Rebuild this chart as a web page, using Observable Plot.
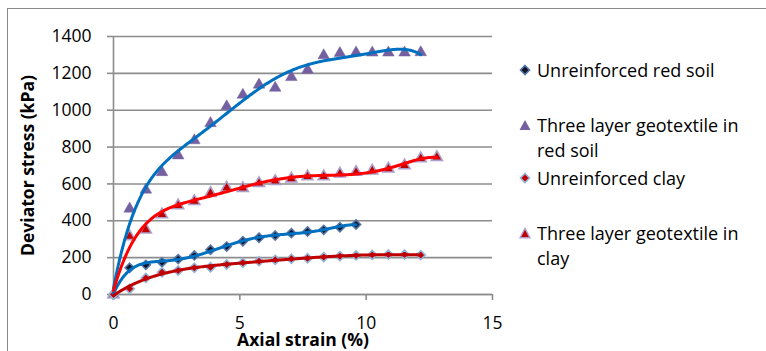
<!DOCTYPE html>
<html><head><meta charset="utf-8">
<script src="https://cdn.jsdelivr.net/npm/d3@7"></script>
<script src="https://cdn.jsdelivr.net/npm/@observablehq/plot@0.6"></script>
<style>
html,body{margin:0;padding:0;background:#fff;}
body{width:766px;height:351px;overflow:hidden;position:relative;font-family:"Open Sans",sans-serif;}
#frame{position:absolute;left:7px;top:8px;width:800px;height:400px;border:1px solid #8a8a8a;box-sizing:border-box;}
#chart{position:absolute;left:0;top:0;}
.legend{position:absolute;left:519px;top:0;font-size:18px;line-height:25px;color:#000;}
.item{position:absolute;left:0;display:flex;align-items:flex-start;white-space:nowrap;}
.item svg{margin-top:6.5px;margin-right:6px;flex:none;}
</style></head><body>
<div id="frame"></div>
<div id="chart"></div>
<div class="legend" id="legend"></div>
<script>
// ---- data ----
const strain = [0, 0.64, 1.28, 1.92, 2.56, 3.2, 3.84, 4.48, 5.12, 5.76, 6.4, 7.04, 7.68, 8.32, 8.96, 9.6, 10.24, 10.88, 11.52, 12.16, 12.8];
const redSoil = [0, 145, 161, 175, 192, 212, 243, 260, 289, 308, 320, 333, 342, 351, 365, 380];
const redSoilGeo = [0, 465, 568, 663, 754, 836, 929, 1020, 1083, 1138, 1121, 1179, 1219, 1297, 1309, 1312, 1312, 1312, 1312, 1314];
const clay = [0, 31, 90, 121, 130, 145, 148, 163, 172, 181, 188, 194, 197, 203, 208, 212, 215, 217, 217, 214];
const clayGeo = [0, 315, 351, 434, 483, 506, 550, 579, 577, 604, 615, 628, 640, 640, 655, 664, 671, 682, 700, 738, 745];
const seriesNames = ["Unreinforced red soil", "Three layer geotextile in red soil", "Unreinforced clay", "Three layer geotextile in clay"];
const xTicks = [0, 5, 10, 15];
const yTicks = [0, 200, 400, 600, 800, 1000, 1200, 1400];

function rows(vals) { return vals.map((v, i) => ({x: strain[i], y: v})); }

// polynomial (order 6) least-squares trendline fitted to the data
function trend(vals, deg = 6) {
  const xs = vals.map((v, i) => strain[i]);
  const xm = d3.max(xs);
  const n = deg + 1;
  const A = Array.from({length: n}, () => new Array(n + 1).fill(0));
  vals.forEach((v, i) => {
    const t = xs[i] / xm;
    const p = d3.range(0, deg + 1).map(k => t ** k);
    for (let r = 0; r < n; r++) {
      for (let c = 0; c < n; c++) A[r][c] += p[r] * p[c];
      A[r][n] += p[r] * v;
    }
  });
  for (let c = 0; c < n; c++) {
    let piv = c;
    for (let r = c + 1; r < n; r++) if (Math.abs(A[r][c]) > Math.abs(A[piv][c])) piv = r;
    [A[c], A[piv]] = [A[piv], A[c]];
    for (let r = 0; r < n; r++) {
      if (r === c) continue;
      const f = A[r][c] / A[c][c];
      for (let k = c; k <= n; k++) A[r][k] -= f * A[c][k];
    }
  }
  const coef = A.map((row, i) => row[n] / row[i]);
  const f = x => { const t = x / xm; let s = 0; coef.forEach((c, k) => s += c * t ** k); return s; };
  return d3.range(0, 201).map(i => { const x = xm * i / 200; return {x, y: f(x)}; });
}

const grey = "#8c8c8c";
const fmt = d3.format("d");
const chart = Plot.plot({
  width: 766, height: 351,
  marginLeft: 113, marginRight: 274, marginTop: 36, marginBottom: 57,
  style: {fontFamily: "'Open Sans', sans-serif", fontSize: "17.5px", color: "#000", background: "transparent"},
  x: {domain: [0, 15]},
  y: {domain: [0, 1400]},
  marks: [
    Plot.gridY(yTicks, {stroke: grey, strokeOpacity: 1, strokeWidth: 1.6}),
    Plot.ruleX([0], {stroke: grey, strokeWidth: 1.6}),
    Plot.axisY({ticks: yTicks, tickFormat: fmt, tickSize: 6, tickPadding: 16, stroke: grey, strokeWidth: 1.6, label: null, fill: "#000"}),
    Plot.axisY({ticks: [], label: "Deviator stress (kPa)", labelArrow: "none", labelAnchor: "center", labelOffset: 92, fontWeight: "bold", fill: "#000"}),
    Plot.axisX({ticks: xTicks, tickFormat: fmt, tickSize: 6, tickPadding: 16, stroke: grey, strokeWidth: 1.6, label: null, fill: "#000"}),
    Plot.axisX({ticks: [], label: "Axial strain (%)", labelArrow: "none", labelAnchor: "center", labelOffset: 51, fontWeight: "bold", fill: "#000"}),
    Plot.ruleY([0], {stroke: grey, strokeWidth: 1.6}),
    Plot.dot(rows(redSoilGeo), {x: "x", y: "y", symbol: "triangle", r: 4.3, fill: "#7460a0", stroke: "#7460a0", strokeWidth: 0.5}),
    Plot.dot(rows(clayGeo), {x: "x", y: "y", symbol: "triangle", r: 4.1, fill: "#c00000", stroke: "#ad9fcc", strokeWidth: 1.6}),
    Plot.dot(rows(redSoil), {x: "x", y: "y", symbol: "diamond2", r: 4.1, fill: "#141428", stroke: "#5577aa", strokeWidth: 1.6}),
    Plot.dot(rows(clay), {x: "x", y: "y", symbol: "diamond2", r: 4.1, fill: "#c00000", stroke: "#95b3d7", strokeWidth: 1.6}),
    Plot.line(trend(redSoilGeo), {x: "x", y: "y", stroke: "#0070c0", strokeWidth: 3}),
    Plot.line(trend(redSoil), {x: "x", y: "y", stroke: "#0070c0", strokeWidth: 3}),
    Plot.line(trend(clayGeo), {x: "x", y: "y", stroke: "#ff0000", strokeWidth: 3}),
    Plot.line(trend(clay), {x: "x", y: "y", stroke: "#c00000", strokeWidth: 3})
  ]
});
document.getElementById("chart").append(chart);

// ---- legend ----
const markers = [
  '<polygon points="6,1.5 10.5,6 6,10.5 1.5,6" fill="#141428" stroke="#5577aa" stroke-width="1.6"/>',
  '<polygon points="6,1 11.5,11 0.5,11" fill="#7460a0"/>',
  '<polygon points="6,1.5 10.5,6 6,10.5 1.5,6" fill="#c00000" stroke="#95b3d7" stroke-width="1.6"/>',
  '<polygon points="6,1.5 11,10.8 1,10.8" fill="#c00000" stroke="#ad9fcc" stroke-width="1.4"/>'
];
const legendTops = [57.5, 112.5, 165.5, 220.5];
const legendText = ["Unreinforced red soil", "Three layer geotextile in<br>red soil", "Unreinforced clay", "Three layer geotextile in<br>clay"];
const lg = document.getElementById("legend");
seriesNames.forEach((name, i) => {
  const d = document.createElement("div");
  d.className = "item";
  d.style.top = legendTops[i] + "px";
  d.innerHTML = '<svg width="12" height="12" viewBox="0 0 12 12">' + markers[i] + '</svg><span>' + legendText[i] + '</span>';
  d.setAttribute("aria-label", name);
  lg.append(d);
});
</script>
</body></html>
